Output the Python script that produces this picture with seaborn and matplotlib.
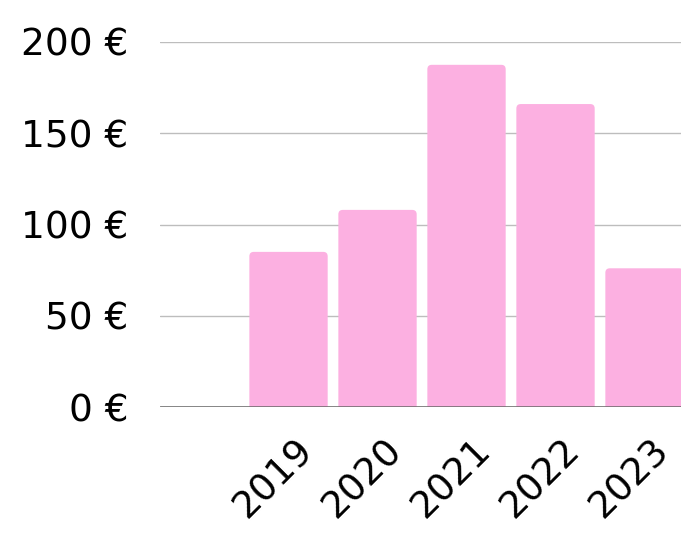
import matplotlib
matplotlib.use('Agg')
import matplotlib.pyplot as plt
import matplotlib.transforms as mtransforms
from matplotlib.patches import FancyBboxPatch
import seaborn as sns
import pandas as pd

years = ['2019', '2020', '2021', '2022', '2023']
amounts = [85, 108, 187.5, 166, 76]
y_ticks = [0, 50, 100, 150, 200]
y_tick_labels = ['0 €', '50 €', '100 €', '150 €', '200 €']

sns.set_style('white')
plt.rcParams['font.family'] = ['DejaVu Sans']
plt.rcParams['text.color'] = 'black'
plt.rcParams['xtick.color'] = 'black'
plt.rcParams['ytick.color'] = 'black'

df = pd.DataFrame({'year': years, 'amount': amounts})

fig = plt.figure(figsize=(6.81, 5.37), dpi=100)
ax = fig.add_axes([160 / 681, 1 - 407 / 537, 521 / 681, 365 / 537])

sns.barplot(data=df, x='year', y='amount', color='#fcb0e1', saturation=1,
            width=0.88, ax=ax, zorder=3)

## swap plain bars for ones with rounded top corners
rad_x = 0.05
rad_y = 2.4
for p in list(ax.patches):
    x0, w, h = p.get_x(), p.get_width(), p.get_height()
    rounded = FancyBboxPatch((x0, -rad_y * 2), w, h + rad_y * 2,
                             boxstyle='round,pad=0,rounding_size={}'.format(rad_x),
                             mutation_aspect=rad_y / rad_x,
                             facecolor=p.get_facecolor(), edgecolor='none', zorder=3)
    p.remove()
    ax.add_patch(rounded)

ax.set_xlim(-1.444, 4.41)
ax.set_ylim(0, 200)
ax.set_yticks(y_ticks)
ax.set_yticklabels(y_tick_labels, fontsize=27, color='black')
ax.yaxis.grid(True, color='#bdbdbd', linewidth=1)
ax.axhline(0, color='#666666', linewidth=1.8, zorder=4)
ax.set_xlabel('')
ax.set_ylabel('')
ax.tick_params(axis='y', length=0, pad=23)
ax.tick_params(axis='x', length=0, pad=0)
for s in ax.spines.values():
    s.set_visible(False)

offset = mtransforms.ScaledTranslation(0.19, -0.38, fig.dpi_scale_trans)
for lbl in ax.get_xticklabels():
    lbl.set_rotation(45)
    lbl.set_ha('right')
    lbl.set_va('center')
    lbl.set_rotation_mode('anchor')
    lbl.set_fontsize(27)
    lbl.set_color('black')
    lbl.set_transform(lbl.get_transform() + offset)

fig.savefig('out.png', dpi=100)
